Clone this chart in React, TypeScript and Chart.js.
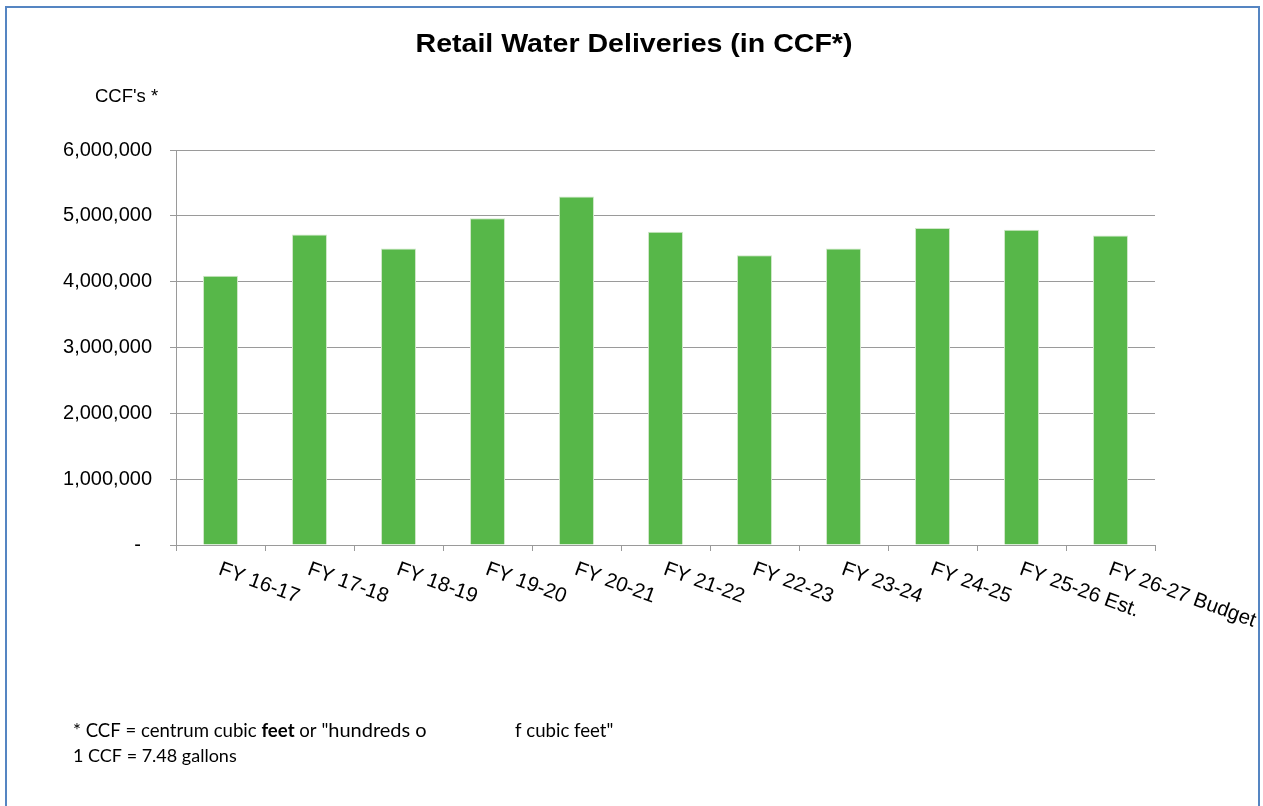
import React, { useEffect, useRef } from 'react';
import { Chart, registerables } from 'chart.js';

Chart.register(...registerables);

const categories = [
  'FY 16-17',
  'FY 17-18',
  'FY 18-19',
  'FY 19-20',
  'FY 20-21',
  'FY 21-22',
  'FY 22-23',
  'FY 23-24',
  'FY 24-25',
  'FY 25-26 Est.',
  'FY 26-27 Budget',
];
const deliveries = [4090000, 4715000, 4505000, 4965000, 5295000, 4760000, 4400000, 4505000, 4815000, 4790000, 4700000];
const yMin = 0;
const yMax = 6000000;
const yStep = 1000000;

const chartTitle = 'Retail Water Deliveries (in CCF*)';
const yAxisLabel = "CCF's *";
const footA = '* CCF = centrum cubic ';
const footB = 'feet';
const footC = ' or "';
const footD = 'hundreds o';
const footE = 'f cubic feet"';
const footLine2 = '1 CCF = 7.48 gallons';

const BAR_COLOR = '#57b749';
const GRID_COLOR = '#9a9a9a';

const textPlugin = {
  id: 'textPlugin',
  afterDraw(chart: any) {
    const ctx = chart.ctx;
    const x = chart.scales.x;
    const area = chart.chartArea;
    ctx.save();
    ctx.fillStyle = '#000';
    // title (slightly stretched like the original)
    ctx.font = 'bold 25.5px "Liberation Sans", Arial, sans-serif';
    ctx.textAlign = 'center';
    ctx.textBaseline = 'alphabetic';
    ctx.save();
    ctx.translate(634, 51.5);
    ctx.scale(1.12, 1);
    ctx.fillText(chartTitle, 0, 0);
    ctx.restore();

    // y axis unit label
    ctx.font = '18.5px "Liberation Sans", Arial, sans-serif';
    ctx.textAlign = 'left';
    ctx.fillText(yAxisLabel, 95, 101.5);

    // rotated category labels
    ctx.font = '20.5px "Liberation Sans", Arial, sans-serif';
    categories.forEach((lab, i) => {
      const cx = x.getPixelForValue(i);
      ctx.save();
      ctx.translate(cx - 3, area.bottom + 29);
      ctx.rotate((20 * Math.PI) / 180);
      ctx.textAlign = 'left';
      ctx.fillText(lab, 0, 0);
      ctx.restore();
    });

    // footnote
    const base = '18.6px Lato, "Open Sans", sans-serif';
    let fx = 73;
    const y1 = 736.5;
    ctx.textAlign = 'left';
    ctx.font = base;
    ctx.fillText(footA, fx, y1);
    fx += ctx.measureText(footA).width;
    ctx.font = 'bold 18.6px Lato, "Open Sans", sans-serif';
    ctx.fillText(footB, fx, y1);
    fx += ctx.measureText(footB).width;
    ctx.font = base;
    ctx.fillText(footC, fx, y1);
    fx += ctx.measureText(footC).width;
    ctx.font = '20px Lato, "Open Sans", sans-serif';
    ctx.fillText(footD, fx, y1);
    ctx.font = base;
    ctx.fillText(footE, 515, y1);
    ctx.font = '18px Lato, "Open Sans", sans-serif';
    ctx.fillText(footLine2, 73, 761.5);
    ctx.restore();
  },
};

export default function App() {
  const canvasRef = useRef<HTMLCanvasElement | null>(null);

  useEffect(() => {
    if (!canvasRef.current) return;
    const chart = new Chart(canvasRef.current, {
      type: 'bar',
      data: {
        labels: categories,
        datasets: [
          {
            label: 'Retail Water Deliveries',
            data: deliveries,
            backgroundColor: BAR_COLOR,
            borderColor: '#cfe7c8',
            borderWidth: 1,
            barPercentage: 0.393,
            categoryPercentage: 1,
          },
        ],
      },
      options: {
        animation: false,
        responsive: true,
        maintainAspectRatio: false,
        layout: { padding: { top: 150, right: 108, bottom: 0, left: 0 } },
        plugins: {
          legend: { display: false },
          title: { display: false },
          tooltip: { enabled: false },
        },
        scales: {
          x: {
            offset: true,
            grid: {
              display: true,
              drawOnChartArea: false,
              drawTicks: true,
              tickLength: 6,
              color: GRID_COLOR,
              offset: true,
            },
            border: { display: true, color: GRID_COLOR },
            ticks: { display: false },
            afterFit: (s: any) => {
              s.height = 261;
            },
          },
          y: {
            min: yMin,
            max: yMax,
            grid: { color: GRID_COLOR, tickLength: 6, drawTicks: true },
            border: { display: true, color: GRID_COLOR },
            ticks: {
              stepSize: yStep,
              padding: 18,
              color: '#000',
              font: { family: '"Liberation Sans", Arial, sans-serif', size: 20 },
              callback: (v: any) => (Number(v) === 0 ? '-  ' : Number(v).toLocaleString('en-US')),
            },
            afterFit: (s: any) => {
              s.width = 176;
            },
          },
        },
      },
      plugins: [textPlugin],
    });
    return () => chart.destroy();
  }, []);

  return (
    <div style={{ position: 'fixed', left: 0, top: 0, width: 1263, height: 806, background: '#fff', overflow: 'hidden' }}>
      <canvas ref={canvasRef} style={{ position: 'absolute', left: 0, top: 0 }} />
      <div
        style={{
          position: 'absolute',
          left: 5,
          top: 6,
          width: 1251,
          height: 820,
          border: '2px solid #5585c2',
          pointerEvents: 'none',
        }}
      />
    </div>
  );
}
